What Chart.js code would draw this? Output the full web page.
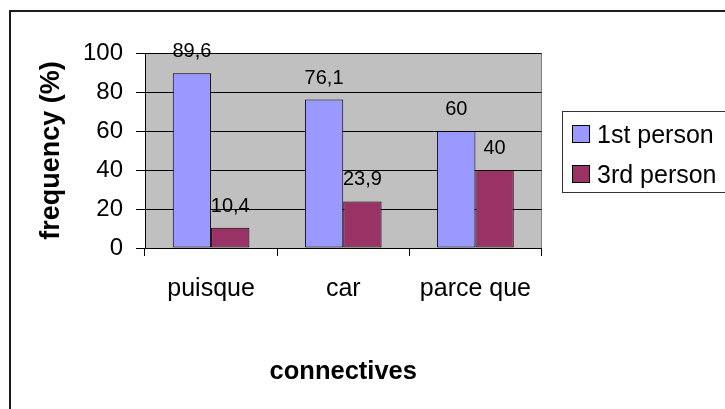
<!DOCTYPE html>
<html>
<head>
<meta charset="utf-8">
<script src="https://cdn.jsdelivr.net/npm/chart.js@4/dist/chart.umd.min.js"></script>
<style>
  html, body { margin: 0; padding: 0; background: #fff; }
  #wrap { position: relative; width: 725px; height: 409px; overflow: hidden; }
  #frame { position: absolute; left: 9px; top: 10px; width: 760px; height: 460px;
           border-left: 2px solid #1c1c1c; border-top: 2px solid #1c1c1c; }
  #c { position: absolute; left: 0; top: 0; }
</style>
</head>
<body>
<div id="wrap">
  <div id="frame"></div>
  <canvas id="c" width="725" height="409"></canvas>
</div>
<script>
// Connective frequencies by grammatical person
const categories = ['puisque', 'car', 'parce que'];
const firstPerson = [89.6, 76.1, 60];
const thirdPerson = [10.4, 23.9, 40];
const seriesNames = ['1st person', '3rd person'];
const yTickValues = [0, 20, 40, 60, 80, 100];

const FONT = "'Liberation Sans', Arial, Helvetica, sans-serif";
Chart.defaults.font.family = FONT;
Chart.defaults.color = '#000';

// grey plot background with a thin right edge
const plotBackground = {
  id: 'plotBackground',
  beforeDraw(chart) {
    const { ctx, chartArea: a } = chart;
    ctx.save();
    ctx.fillStyle = '#C0C0C0';
    ctx.fillRect(a.left, a.top, a.right - a.left, a.bottom - a.top);
    ctx.strokeStyle = '#808080';
    ctx.lineWidth = 1;
    ctx.beginPath();
    ctx.moveTo(Math.round(a.right) - 0.5, a.top);
    ctx.lineTo(Math.round(a.right) - 0.5, a.bottom);
    ctx.stroke();
    ctx.restore();
  }
};

// value labels above each bar, decimal comma
const valueLabels = {
  id: 'valueLabels',
  afterDatasetsDraw(chart) {
    const { ctx } = chart;
    ctx.save();
    ctx.font = '20px ' + FONT;
    ctx.fillStyle = '#000';
    ctx.textAlign = 'center';
    ctx.textBaseline = 'alphabetic';
    chart.data.datasets.forEach((ds, i) => {
      chart.getDatasetMeta(i).data.forEach((bar, j) => {
        const txt = String(ds.data[j]).replace('.', ',');
        ctx.fillText(txt, bar.x, bar.y - 16);
      });
    });
    ctx.restore();
  }
};

// boxed legend on the right
const boxedLegend = {
  id: 'boxedLegend',
  afterDraw(chart) {
    const { ctx } = chart;
    ctx.save();
    ctx.strokeStyle = '#333';
    ctx.lineWidth = 1;
    ctx.strokeRect(562.5, 111.5, 200, 81);
    ctx.font = '25px ' + FONT;
    ctx.textAlign = 'left';
    ctx.textBaseline = 'alphabetic';
    const rows = [125, 165];
    chart.data.datasets.forEach((ds, i) => {
      const y = rows[i];
      ctx.fillStyle = ds.backgroundColor;
      ctx.fillRect(572, y, 18, 18);
      ctx.strokeStyle = '#000';
      ctx.strokeRect(572.5, y + 0.5, 17, 17);
      ctx.fillStyle = '#000';
      ctx.fillText(ds.label, 597, y + 18);
    });
    ctx.restore();
  }
};

new Chart(document.getElementById('c'), {
  type: 'bar',
  data: {
    labels: categories,
    datasets: [
      { label: seriesNames[0], data: firstPerson, backgroundColor: '#9999FF',
        borderColor: '#000', borderWidth: 1, borderSkipped: false },
      { label: seriesNames[1], data: thirdPerson, backgroundColor: '#993366',
        borderColor: '#000', borderWidth: 1, borderSkipped: false }
    ]
  },
  options: {
    responsive: false,
    animation: false,
    devicePixelRatio: 1,
    layout: { padding: { left: 30, top: 53, right: 183.5, bottom: 10 } },
    plugins: { legend: { display: false }, tooltip: { enabled: false } },
    datasets: { bar: { categoryPercentage: 0.58, barPercentage: 1 } },
    scales: {
      x: {
        grid: { offset: true, drawOnChartArea: false, drawTicks: true, tickLength: 8,
                color: '#000', lineWidth: 1 },
        border: { display: true, color: '#000', width: 1 },
        ticks: { font: { size: 25 }, color: '#000', padding: 18, maxRotation: 0 },
        title: { display: true, text: 'connectives', color: '#000',
                 font: { size: 25.5, weight: 'bold' }, padding: { top: 0, bottom: 11.7 } },
        afterFit(scale) { scale.height = 151; }
      },
      y: {
        min: 0, max: 100,
        afterBuildTicks(scale) { scale.ticks = yTickValues.map(v => ({ value: v })); },
        grid: { color: '#000', lineWidth: 1, drawTicks: true, tickLength: 9 },
        border: { display: true, color: '#000', width: 1 },
        ticks: { font: { size: 24 }, color: '#000', padding: 13 },
        title: { display: true, text: 'frequency (%)', color: '#000',
                 font: { size: 27, weight: 'bold' }, padding: { top: 5, bottom: 0 } },
        afterFit(scale) { scale.width = 115; }
      }
    }
  },
  plugins: [plotBackground, valueLabels, boxedLegend]
});
</script>
</body>
</html>
